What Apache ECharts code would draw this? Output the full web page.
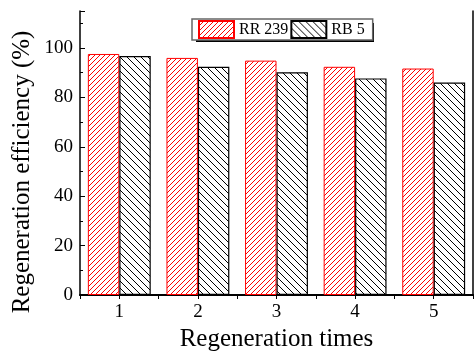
<!DOCTYPE html>
<html>
<head>
<meta charset="utf-8">
<script src="https://cdn.jsdelivr.net/npm/echarts@6/dist/echarts.min.js"></script>
<style>
  html, body { margin: 0; padding: 0; background: #fff; }
  #chart-container { width: 475px; height: 357px; }
</style>
</head>
<body>
<div id="chart-container"></div>
<script>
const categories = ['1', '2', '3', '4', '5'];
const rr239 = [97.6, 96.0, 94.9, 92.4, 91.7];
const rb5 = [96.8, 92.4, 90.2, 87.7, 86.0];
const yTicks = [0, 20, 40, 60, 80, 100];

// pixel hatch tile, repeated by the library as a pattern
const hatch = (size, color, dir) => {
	const c = document.createElement('canvas');
	c.width = size; c.height = size;
	const ctx = c.getContext('2d');
	ctx.fillStyle = '#ffffff';
	ctx.fillRect(0, 0, size, size);
	ctx.fillStyle = color;
	for (let i = 0; i < size; i++) {
		const y = dir === '/' ? size - 1 - i : i;
		ctx.fillRect(i, y, 1, 1);
	}
	return { image: c, repeat: 'repeat' };
};

const font = 'Liberation Serif';
const myChart = echarts.init(document.getElementById('chart-container'));

const option = {
	backgroundColor: '#fff',
	animation: false,
	grid: { left: 80, right: 2, top: 11, bottom: 58 },
	legend: {
		left: 192, top: 19,
		padding: [1, 8, 1, 6],
		itemGap: 2,
		itemWidth: 35, itemHeight: 17,
		icon: 'rect',
		backgroundColor: '#fff',
		borderColor: '#666', borderWidth: 1.5,
		textStyle: { fontFamily: font, fontSize: 16, color: '#000' },
		data: ['RR 239', 'RB 5']
	},
	xAxis: [{
		type: 'category',
		data: categories,
		name: 'Regeneration times',
		nameLocation: 'middle',
		nameGap: 32,
		nameTextStyle: { fontFamily: font, fontSize: 25, color: '#000' },
		axisLine: { lineStyle: { color: '#000', width: 2 } },
		axisTick: { inside: true, length: 4, lineStyle: { color: '#000' } },
		axisLabel: { fontFamily: font, fontSize: 19, color: '#000', margin: 8 }
	}, {
		type: 'value',
		position: 'top',
		min: 0, max: 10, interval: 1,
		axisLine: { show: true, lineStyle: { color: '#000', width: 1.5 } },
		axisTick: { show: true, inside: true, length: 4, lineStyle: { color: '#000' } },
		axisLabel: { show: false },
		splitLine: { show: false }
	}],
	yAxis: [{
		type: 'value',
		min: 0, max: 115, interval: 20,
		axisLine: { show: true, lineStyle: { color: '#000', width: 1.5 } },
		axisTick: { show: true, inside: true, length: 5, lineStyle: { color: '#000' } },
		minorTick: { show: true, splitNumber: 2, length: 3, lineStyle: { color: '#000' } },
		axisLabel: {
			fontFamily: font, fontSize: 19, color: '#000', margin: 7,
			showMaxLabel: false,
			formatter: v => yTicks.includes(v) ? String(v) : ''
		},
		splitLine: { show: false }
	}, {
		type: 'value',
		position: 'right',
		min: 0, max: 115,
		axisLine: { show: true, lineStyle: { color: '#000', width: 1.5 } },
		axisTick: { show: false },
		axisLabel: { show: false },
		splitLine: { show: false }
	}],
	graphic: [{
		// legend drop shadow
		type: 'rect',
		z: 3,
		shape: { x: 196, y: 23, width: 178, height: 19 },
		style: { fill: '#000' }
	}, {
		type: 'text',
		x: 22, y: 172,
		rotation: Math.PI / 2,
		style: {
			text: 'Regeneration efficiency (%)',
			fontFamily: font, fontSize: 25, fill: '#000',
			align: 'center', verticalAlign: 'middle'
		}
	}],
	series: [{
		name: 'RR 239',
		type: 'bar',
		data: rr239,
		barGap: '0%',
		barCategoryGap: '20%',
		itemStyle: { color: hatch(5, '#ff0000', '/'), borderColor: '#ff0000', borderWidth: 1 }
	}, {
		name: 'RB 5',
		type: 'bar',
		data: rb5,
		barGap: '0%',
		barCategoryGap: '20%',
		itemStyle: { color: hatch(7, '#000000', '\\'), borderColor: '#000', borderWidth: 1.2 }
	}]
};

myChart.setOption(option);
</script>
</body>
</html>
